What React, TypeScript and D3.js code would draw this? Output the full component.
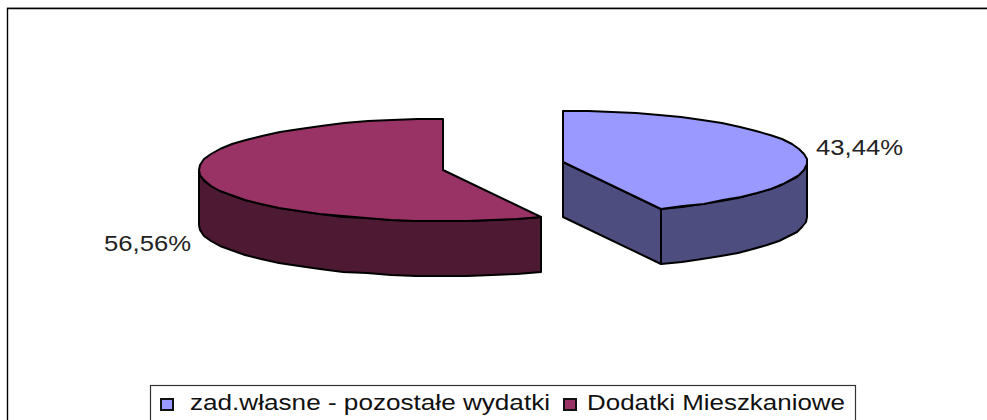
import React from 'react';
import * as d3 from 'd3';

const labels = ['zad.własne - pozostałe wydatki', 'Dodatki Mieszkaniowe'];
const values = [43.44, 56.56];
const valueLabels = ['43,44%', '56,56%'];
const topColors = ['#9999ff', '#993366'];
const sideColors = ['#4d4d80', '#4d1933'];

const width = 987;
const height = 420;
const rx = 244;
const ry = 51;
const depth = 55;
const centers: [number, number][] = [
  [563, 162],
  [443, 170],
];
const font = '"Liberation Sans", Arial, sans-serif';

const pie = d3.pie<number>().sort(null).value(d => d);
const slices = pie(values);

// angle 0 is up, going clockwise, squashed to an ellipse
const onRim = (c: [number, number], a: number, dy = 0): [number, number] => [
  Math.round(c[0] + rx * Math.sin(a)),
  Math.round(c[1] - ry * Math.cos(a) + dy),
];

// coarse steps, the original outline is visibly polygonal
const sample = (a0: number, a1: number) => {
  const step = (6 * Math.PI) / 180;
  const n = Math.max(1, Math.ceil((a1 - a0) / step));
  return d3.range(n + 1).map(i => a0 + ((a1 - a0) * i) / n);
};

const line = d3.line();

const App = () => {
  const paths = slices.map((s, i) => {
    const c = centers[i];
    const top = line([c, ...sample(s.startAngle, s.endAngle).map(a => onRim(c, a))]) + 'Z';

    // only the part of the rim facing the viewer has a wall
    const wa0 = Math.max(s.startAngle, Math.PI / 2);
    const wa1 = Math.min(s.endAngle, (3 * Math.PI) / 2);
    const front = sample(wa0, wa1);
    const wall =
      line([...front.map(a => onRim(c, a)), ...front.slice().reverse().map(a => onRim(c, a, depth))]) + 'Z';

    // cut face of a slice that ends in the front
    const cut =
      s.endAngle < Math.PI
        ? line([
            c,
            onRim(c, s.endAngle),
            onRim(c, s.endAngle, depth),
            [c[0], c[1] + depth],
          ]) + 'Z'
        : null;
    return { top, wall, cut };
  });

  return (
    <svg
      width={width}
      height={height}
      style={{ position: 'absolute', left: 0, top: 0, background: '#fff' }}
      fontFamily={font}
    >
      <path d="M7,7.5H987" stroke="#c0c0c0" fill="none" />
      <path d="M7.5,420V8.5H987" stroke="#000" fill="none" strokeWidth={1.4} />

      {paths.map((p, i) => (
        <g key={labels[i]} stroke="#000" strokeWidth={2} strokeLinejoin="round">
          <path d={p.wall} fill={sideColors[i]} />
          {p.cut && <path d={p.cut} fill={sideColors[i]} />}
          <path d={p.top} fill={topColors[i]} />
        </g>
      ))}

      <text x={816} y={155} fontSize={22} textLength={87} lengthAdjust="spacingAndGlyphs" fill="#222">
        {valueLabels[0]}
      </text>
      <text x={104} y={251} fontSize={22} textLength={87} lengthAdjust="spacingAndGlyphs" fill="#222">
        {valueLabels[1]}
      </text>

      <rect x={150.5} y={385.5} width={705} height={50} fill="#fff" stroke="#333" strokeWidth={1.2} />
      <rect x={161} y={399} width={12} height={11} fill={topColors[0]} stroke="#111" strokeWidth={2} />
      <text x={190} y={410} fontSize={22} textLength={360} lengthAdjust="spacingAndGlyphs" fill="#111">
        {labels[0]}
      </text>
      <rect x={564} y={399} width={12} height={11} fill={topColors[1]} stroke="#111" strokeWidth={2} />
      <text x={587} y={410} fontSize={22} textLength={258} lengthAdjust="spacingAndGlyphs" fill="#111">
        {labels[1]}
      </text>
    </svg>
  );
};

export default App;
